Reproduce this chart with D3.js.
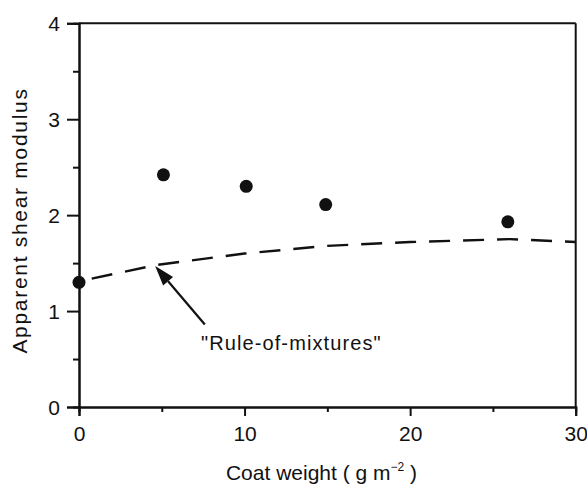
<!DOCTYPE html>
<html>
<head>
<meta charset="utf-8">
<script src="https://cdn.jsdelivr.net/npm/d3@7"></script>
<style>
  html, body { margin: 0; padding: 0; background: #fff; }
  svg { display: block; }
  text { font-family: "Liberation Sans", Arial, Helvetica, sans-serif; fill: #111; }
</style>
</head>
<body>
<script>
// ---- data ----
const coatWeight = [0, 5.1, 10.1, 14.9, 25.9];
const shearModulus = [1.30, 2.42, 2.30, 2.11, 1.93];

const mixX = [0, 4.65, 10, 15, 20, 26, 30];
const mixY = [1.31, 1.48, 1.60, 1.68, 1.72, 1.75, 1.72];

const xTicks = [0, 10, 20, 30];
const xMinorTicks = [5, 15, 25];
const yTicks = [0, 1, 2, 3, 4];
const yMinorTicks = [0.5, 1.5, 2.5, 3.5];

const annotationText = '"Rule-of-mixtures"';
const arrowFrom = [7.6, 0.86];   // data coords of arrow tail
const arrowTo = [4.6, 1.47];     // data coords of arrow tip
const xTitle = "Coat weight";
const yTitle = "Apparent shear modulus";

// ---- layout ----
const W = 587, H = 484;
const x = d3.scaleLinear().domain([0, 30]).range([79, 575.7]);
const y = d3.scaleLinear().domain([0, 4]).range([407, 23.3]);

const svg = d3.select("body").append("svg").attr("width", W).attr("height", H);

// frame (top and right)
svg.append("line").attr("x1", x(0)).attr("x2", x(30)).attr("y1", y(4)).attr("y2", y(4))
  .attr("stroke", "#111").attr("stroke-width", 2);
svg.append("line").attr("x1", x(30)).attr("x2", x(30)).attr("y1", y(4)).attr("y2", y(0))
  .attr("stroke", "#111").attr("stroke-width", 2);

// x axis
const gx = svg.append("g").attr("transform", `translate(0,${y(0)})`)
  .call(d3.axisBottom(x).tickValues(xTicks).tickSize(9).tickPadding(10).tickFormat(d3.format("d")));
svg.append("g").attr("transform", `translate(0,${y(0)})`)
  .call(d3.axisBottom(x).tickValues(xMinorTicks).tickSize(5).tickFormat(""));

// y axis
const gy = svg.append("g").attr("transform", `translate(${x(0)},0)`)
  .call(d3.axisLeft(y).tickValues(yTicks).tickSize(12).tickPadding(7).tickFormat(d3.format("d")));
svg.append("g").attr("transform", `translate(${x(0)},0)`)
  .call(d3.axisLeft(y).tickValues(yMinorTicks).tickSize(6).tickFormat(""));

svg.selectAll(".domain").attr("stroke", "#111").attr("stroke-width", 2);
svg.selectAll(".tick line").attr("stroke", "#111").attr("stroke-width", 2);
svg.selectAll(".tick text").attr("font-size", 21).attr("fill", "#111")
  .style("font-family", '"Liberation Sans", Arial, Helvetica, sans-serif');
gy.selectAll(".tick text").attr("dy", "0.36em");

// dashed rule-of-mixtures line
svg.append("path")
  .datum(mixX.map((d, i) => [d, mixY[i]]))
  .attr("d", d3.line().x(d => x(d[0])).y(d => y(d[1])))
  .attr("fill", "none").attr("stroke", "#111").attr("stroke-width", 2.4)
  .attr("stroke-dasharray", "21,13").attr("stroke-dashoffset", -13);

// data points
svg.selectAll("circle.pt").data(coatWeight).join("circle").attr("class", "pt")
  .attr("cx", d => x(d)).attr("cy", (d, i) => y(shearModulus[i])).attr("r", 6.5).attr("fill", "#111");

// arrow
const ax0 = x(arrowFrom[0]), ay0 = y(arrowFrom[1]), ax1 = x(arrowTo[0]), ay1 = y(arrowTo[1]);
const ang = Math.atan2(ay1 - ay0, ax1 - ax0);
const headL = 20, headW = 6.5;
const bx = ax1 - headL * Math.cos(ang), by = ay1 - headL * Math.sin(ang);
svg.append("line").attr("x1", ax0).attr("y1", ay0).attr("x2", bx).attr("y2", by)
  .attr("stroke", "#111").attr("stroke-width", 2.2);
svg.append("path")
  .attr("d", `M${ax1},${ay1} L${bx + headW * Math.sin(ang)},${by - headW * Math.cos(ang)} L${bx - headW * Math.sin(ang)},${by + headW * Math.cos(ang)} Z`)
  .attr("fill", "#111");

// annotation text
svg.append("text").attr("x", 201).attr("y", 350).attr("font-size", 20)
  .attr("letter-spacing", 1.1).text(annotationText);

// axis titles
const xt = svg.append("text").attr("x", 321.5).attr("y", 480).attr("text-anchor", "middle").attr("font-size", 21);
xt.append("tspan").text(xTitle + " ( g m");
xt.append("tspan").attr("font-size", 12).attr("dy", -9).text("\u22122");
xt.append("tspan").attr("dy", 9).text(" )");

svg.append("text").attr("transform", "translate(27,220.5) rotate(-90)")
  .attr("text-anchor", "middle").attr("font-size", 21).attr("letter-spacing", 1.7).text(yTitle);
</script>
</body>
</html>
